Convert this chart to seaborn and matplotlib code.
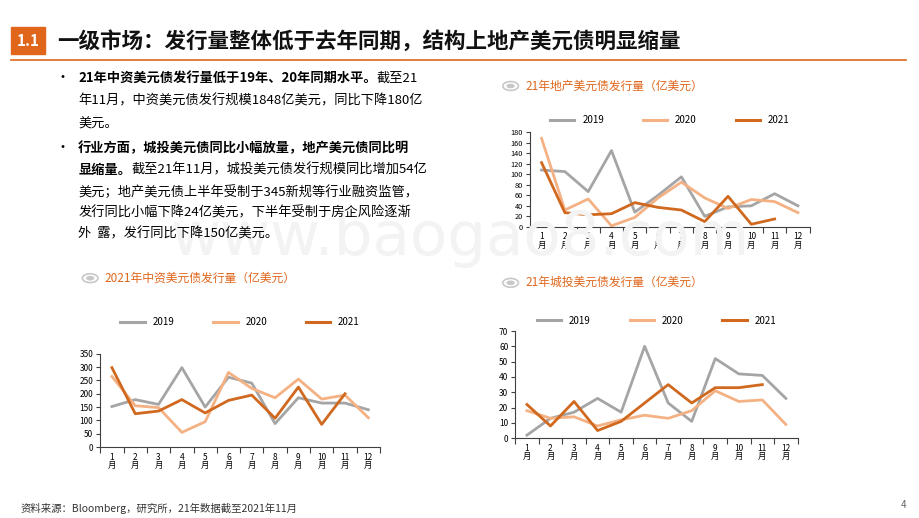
import matplotlib
matplotlib.use("Agg")
import matplotlib.pyplot as plt
import matplotlib.patches as mpatches
import numpy as np
import pandas as pd
import seaborn as sns

plt.rcParams["font.family"] = ["Noto Sans CJK SC", "DejaVu Sans"]

# ── data ─────────────────────────────────────────────────────────────────────
MONTHS = [f"{i}\n月" for i in range(1, 13)]
YEARS = ["2019", "2020", "2021"]
COLORS = {"2019": "#A5A5A5", "2020": "#F4B183", "2021": "#D0691F"}

cn_2019 = [152, 178, 160, 298, 150, 262, 240, 88, 185, 165, 165, 140]
cn_2020 = [265, 155, 148, 55, 95, 280, 220, 185, 255, 180, 195, 110]
cn_2021 = [298, 125, 135, 178, 128, 175, 195, 108, 225, 85, 200]

re_2019 = [108, 105, 67, 145, 28, 60, 95, 20, 38, 40, 63, 40]
re_2020 = [168, 32, 53, 2, 18, 55, 85, 55, 35, 52, 48, 27]
re_2021 = [122, 27, 23, 25, 46, 37, 32, 10, 58, 5, 15]

ct_2019 = [2, 13, 17, 26, 17, 60, 23, 11, 52, 42, 41, 26]
ct_2020 = [18, 13, 14, 8, 12, 15, 13, 18, 31, 24, 25, 9]
ct_2021 = [22, 8, 24, 5, 11, 23, 35, 23, 33, 33, 35]

ORANGE = "#E0661C"


def to_frame(s19, s20, s21):
    rows = []
    for yr, vals in zip(YEARS, [s19, s20, s21]):
        for i, v in enumerate(vals):
            rows.append({"month": i, "year": yr, "value": v})
    return pd.DataFrame(rows)


def draw_chart(rect, df, ymax, ystep, title, title_xy, legend_y, ysize=6):
    ax = fig.add_axes(rect)
    sns.lineplot(data=df, x="month", y="value", hue="year", palette=COLORS,
                 ax=ax, linewidth=2.0, legend=False)
    ax.set_xlim(-0.5, 11.5)
    ax.set_ylim(0, ymax)
    ax.set_yticks(np.arange(0, ymax + 1, ystep))
    ax.set_xticks(np.arange(-0.5, 12, 1), minor=False)
    ax.set_xticklabels([])
    ax.set_xticks(np.arange(12), minor=True)
    ax.set_xticklabels(MONTHS, minor=True, fontsize=6, linespacing=0.95)
    ax.tick_params(axis="x", which="minor", length=0, pad=4)
    ax.tick_params(axis="x", which="major", length=4, color="#404040")
    ax.tick_params(axis="y", labelsize=ysize, length=3, color="#404040", pad=2)
    ax.set_xlabel("")
    ax.set_ylabel("")
    for s in ["top", "right"]:
        ax.spines[s].set_visible(False)
    ax.spines["left"].set_color("#404040")
    ax.spines["bottom"].set_color("#404040")
    ax.patch.set_alpha(0)
    # legend
    handles = [plt.Line2D([], [], color=COLORS[y], lw=2.2) for y in YEARS]
    fig.legend(handles, YEARS, loc="center", ncol=3, frameon=False, fontsize=7,
               bbox_to_anchor=(rect[0] + rect[2] / 2, legend_y),
               columnspacing=4, handlelength=2.5)
    # title with bullet marker
    tx, ty = title_xy
    fig.add_artist(mpatches.Circle((tx, ty), 0.0085, transform=fig.transFigure,
                                   facecolor="white", edgecolor="#C8C8C8", lw=1.2))
    fig.add_artist(mpatches.Circle((tx, ty), 0.0045, transform=fig.transFigure,
                                   facecolor="#C8C8C8", edgecolor="none"))
    fig.text(tx + 0.016, ty, title, color=ORANGE, fontsize=8.5, va="center")
    return ax


fig = plt.figure(figsize=(9.2, 5.18), dpi=100)

# ── header ───────────────────────────────────────────────────────────────────
fig.add_artist(mpatches.Rectangle((0.012, 0.895), 0.037, 0.053,
                                  transform=fig.transFigure, color=ORANGE))
fig.text(0.0305, 0.921, "1.1", color="white", fontsize=11, fontweight="bold",
         ha="center", va="center")
fig.text(0.062, 0.921, "一级市场：发行量整体低于去年同期，结构上地产美元债明显缩量",
         fontsize=15.5, fontweight="bold", va="center", color="#111111")
fig.add_artist(plt.Line2D([0.012, 0.985], [0.885, 0.885], transform=fig.transFigure,
                          color=ORANGE, lw=1.2))

# watermark
fig.text(0.5, 0.54, "www.baogao8.com", fontsize=44, color="#F3F3F3",
         ha="center", va="center", family="DejaVu Sans", zorder=0)

# ── bullet text ──────────────────────────────────────────────────────────────
lines = [
    (True, "21年中资美元债发行量低于19年、20年同期水平。", "截至21"),
    (False, "", "年11月，中资美元债发行规模1848亿美元，同比下降180亿"),
    (False, "", "美元。"),
    (True, "行业方面，城投美元债同比小幅放量，地产美元债同比明", ""),
    (False, "显缩量。", "截至21年11月，城投美元债发行规模同比增加54亿"),
    (False, "", "美元；地产美元债上半年受制于345新规等行业融资监管，"),
    (False, "", "发行同比小幅下降24亿美元，下半年受制于房企风险逐渐"),
    (False, "", "外  露，发行同比下降150亿美元。"),
]
ys = [78, 101, 124, 148, 170, 192, 213, 234]
fig.canvas.draw()
renderer = fig.canvas.get_renderer()
for (bullet, bold, rest), ypx in zip(lines, ys):
    y = 1 - ypx / 518
    if bullet:
        fig.text(0.060, y, "•", fontsize=10, va="center")
    x = 0.085
    if bold:
        t = fig.text(x, y, bold, fontsize=9.5, fontweight="bold", va="center")
        bb = t.get_window_extent(renderer)
        x = bb.x1 / fig.bbox.width
    if rest:
        fig.text(x, y, rest, fontsize=9.5, va="center")

# ── charts ───────────────────────────────────────────────────────────────────
draw_chart([0.109, 0.137, 0.304, 0.180], to_frame(cn_2019, cn_2020, cn_2021),
           350, 50, "2021年中资美元债发行量（亿美元）", (0.098, 0.463), 0.378)
draw_chart([0.576, 0.562, 0.304, 0.183], to_frame(re_2019, re_2020, re_2021),
           180, 20, "21年地产美元债发行量（亿美元）", (0.555, 0.834), 0.768, ysize=5.3)
draw_chart([0.560, 0.154, 0.307, 0.207], to_frame(ct_2019, ct_2020, ct_2021),
           70, 10, "21年城投美元债发行量（亿美元）", (0.555, 0.454), 0.381)

# ── footer ───────────────────────────────────────────────────────────────────
fig.text(0.022, 0.019, "资料来源：Bloomberg，研究所，21年数据截至2021年11月",
         fontsize=7.5, color="#333333", va="center")
fig.text(0.985, 0.025, "4", fontsize=7, color="#666666", ha="right", va="center")

fig.savefig("out.png", dpi=100)
